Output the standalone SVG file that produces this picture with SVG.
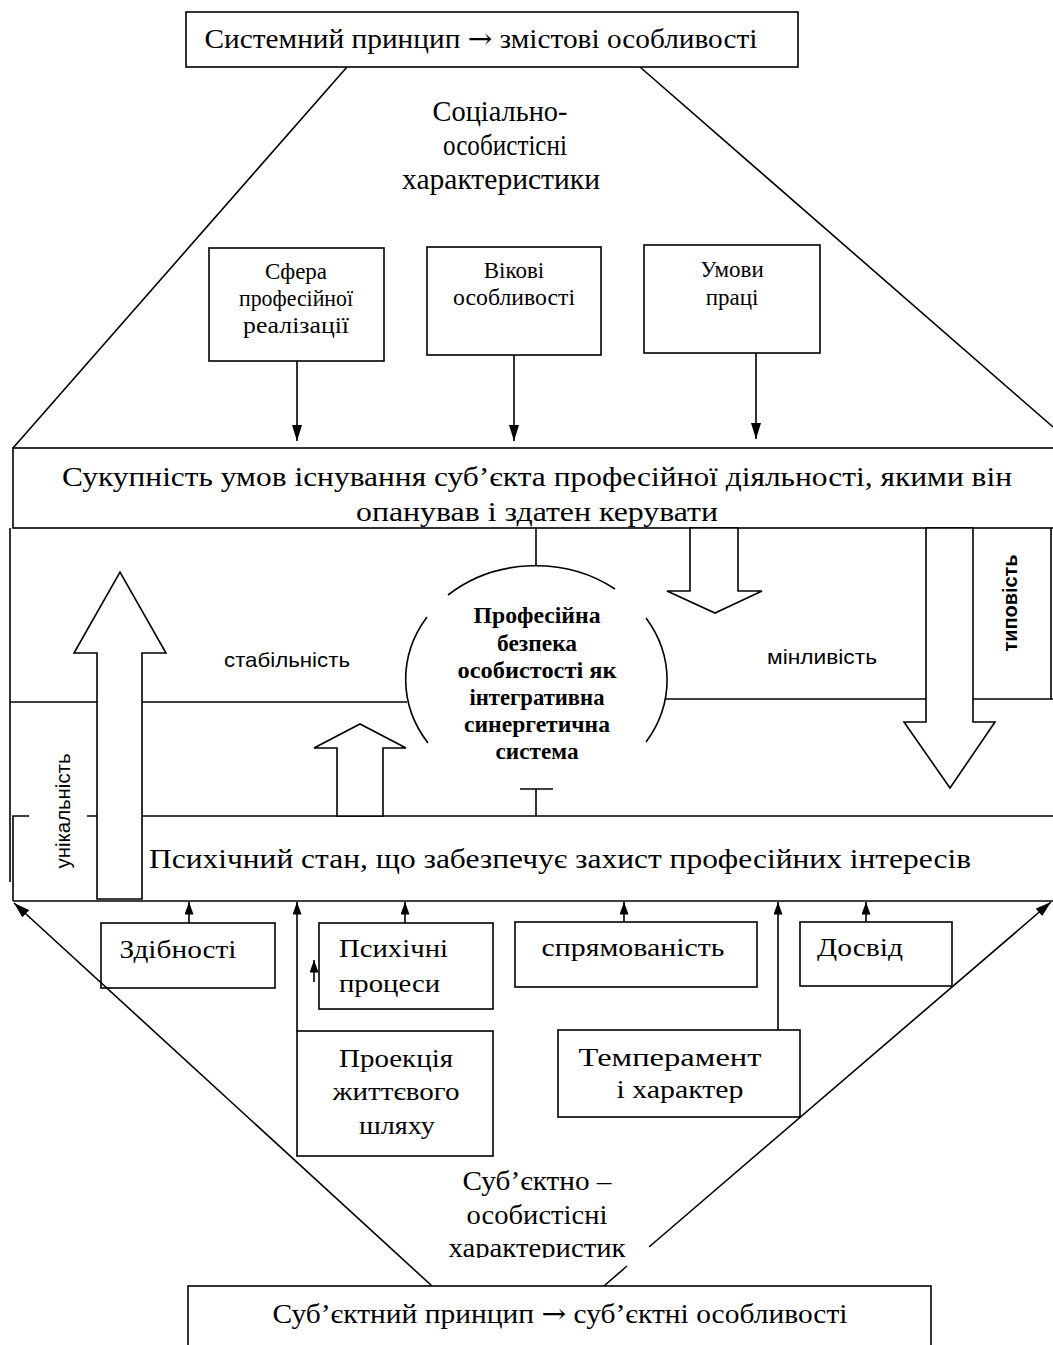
<svg xmlns="http://www.w3.org/2000/svg" width="1053" height="1345" viewBox="0 0 1053 1345">
<style>
.ln{stroke:#000;stroke-width:1.6;fill:none}
.box{fill:#fff;stroke:#000;stroke-width:1.6}
.big{fill:#fff;stroke:#000;stroke-width:1.6;stroke-linejoin:miter}
.t{font-family:"Liberation Serif","Times New Roman",serif;fill:#000;text-anchor:middle}
.tl{font-family:"Liberation Serif","Times New Roman",serif;fill:#000}
.b{font-weight:bold}
.s{font-family:"Liberation Sans",Arial,sans-serif;fill:#000;text-anchor:middle}
.arr{font-family:"DejaVu Serif",serif}
</style>
<defs>
<marker id="ah" viewBox="0 0 16 10" refX="16" refY="5" markerWidth="16" markerHeight="10" orient="auto" markerUnits="userSpaceOnUse">
<path d="M0,0 L16,5 L0,10 z" fill="#000"/>
</marker>
<marker id="ahs" viewBox="0 0 14 10" refX="14" refY="5" markerWidth="14" markerHeight="9" orient="auto" markerUnits="userSpaceOnUse">
<path d="M0,0 L14,5 L0,10 z" fill="#000"/>
</marker>
<clipPath id="cut"><rect x="400" y="1160" width="300" height="98"/></clipPath>
</defs>
<rect width="1053" height="1345" fill="#fff"/>

<g id="frame">
<line class="ln" x1="347" y1="67" x2="13" y2="448"/>
<line class="ln" x1="640" y1="67" x2="1053" y2="427"/>
<line class="ln" x1="10" y1="528" x2="10" y2="882"/>
<path class="ln" d="M29,816 L13,816 L13,901"/>
<line class="ln" x1="87" y1="816" x2="1053" y2="816"/>
<line class="ln" x1="13" y1="901" x2="1053" y2="901"/>
<line class="ln" x1="10" y1="702" x2="407" y2="702"/>
<line class="ln" x1="665" y1="699" x2="1053" y2="699"/>
<line class="ln" x1="1051" y1="528" x2="1051" y2="699"/>
</g>

<g id="top-principle">
<rect class="box" x="186" y="12" width="612" height="55"/>
<text class="t" x="481" y="48" font-size="27" textLength="553" lengthAdjust="spacingAndGlyphs">Системний принцип <tspan class="arr">→</tspan> змістові особливості</text>
</g>

<g id="social-label">
<text class="t" x="500" y="121" font-size="29" textLength="135" lengthAdjust="spacingAndGlyphs">Соціально-</text>
<text class="t" x="505" y="155" font-size="29" textLength="124" lengthAdjust="spacingAndGlyphs">особистісні</text>
<text class="t" x="501" y="189" font-size="29" textLength="198" lengthAdjust="spacingAndGlyphs">характеристики</text>
</g>

<g id="sfera">
<rect class="box" x="209" y="248" width="175" height="113"/>
<text class="t" x="296" y="279" font-size="23">Сфера</text>
<text class="t" x="296" y="306" font-size="23" textLength="114" lengthAdjust="spacingAndGlyphs">професійної</text>
<text class="t" x="296" y="333" font-size="23" textLength="106" lengthAdjust="spacingAndGlyphs">реалізації</text>
</g>
<g id="vikovi">
<rect class="box" x="427" y="247" width="174" height="108"/>
<text class="t" x="514" y="278" font-size="23">Вікові</text>
<text class="t" x="514" y="305" font-size="23" textLength="122" lengthAdjust="spacingAndGlyphs">особливості</text>
</g>
<g id="umovy">
<rect class="box" x="644" y="245" width="176" height="108"/>
<text class="t" x="732" y="277" font-size="23">Умови</text>
<text class="t" x="732" y="305" font-size="23">праці</text>
</g>

<g id="sukupnist">
<rect class="box" x="13" y="448" width="1045" height="80"/>
<text class="t" x="537" y="486" font-size="28" textLength="950" lengthAdjust="spacingAndGlyphs">Сукупність умов існування суб’єкта професійної діяльності, якими він</text>
<text class="t" x="537" y="521" font-size="28" textLength="362" lengthAdjust="spacingAndGlyphs">опанував і здатен керувати</text>
</g>

<g id="core">
<path class="ln" d="M427,617 A131,114 0 0 0 428,743"/>
<path class="ln" d="M448,595 A131,114 0 0 1 615,589"/>
<path class="ln" d="M646,618 A131,114 0 0 1 646,742"/>
<text class="t b" x="537" y="623" font-size="23" textLength="127" lengthAdjust="spacingAndGlyphs">Професійна</text>
<text class="t b" x="537" y="651" font-size="23" textLength="80" lengthAdjust="spacingAndGlyphs">безпека</text>
<text class="t b" x="537" y="678" font-size="23" textLength="159" lengthAdjust="spacingAndGlyphs">особистості як</text>
<text class="t b" x="537" y="705" font-size="23" textLength="135" lengthAdjust="spacingAndGlyphs">інтегративна</text>
<text class="t b" x="537" y="732" font-size="23" textLength="146" lengthAdjust="spacingAndGlyphs">синергетична</text>
<text class="t b" x="537" y="759" font-size="23" textLength="83" lengthAdjust="spacingAndGlyphs">система</text>
</g>

<g id="big-arrows">
<polygon class="big" points="97,899 97,653 74,653 120,572 166,653 142,653 142,899"/>
<polygon class="big" points="337,816 337,748 314,748 360,724 406,748 383,748 383,816"/>
<polygon class="big" points="690,528 690,591 667,591 715,613 762,591 738,591 738,528"/>
<polygon class="big" points="926,528 926,722 904,722 950,788 995,722 973,722 973,528"/>
</g>

<g id="side-labels">
<text class="s" x="287" y="667" font-size="21" textLength="126" lengthAdjust="spacingAndGlyphs">стабільність</text>
<text class="s" x="822" y="664" font-size="21" textLength="110" lengthAdjust="spacingAndGlyphs">мінливість</text>
<text class="s" transform="translate(70,811) rotate(-90)" font-size="21" textLength="115" lengthAdjust="spacingAndGlyphs">унікальність</text>
<text class="s b" transform="translate(1017,603) rotate(-90)" font-size="20" textLength="97" lengthAdjust="spacingAndGlyphs">типовість</text>
</g>

<g id="psychic-state">
<text class="t" x="560" y="868" font-size="28" textLength="822" lengthAdjust="spacingAndGlyphs">Психічний стан, що забезпечує захист професійних інтересів</text>
</g>

<g id="zdibnosti">
<rect class="box" x="101" y="923" width="174" height="65"/>
<text class="t" x="178" y="958" font-size="25" textLength="117" lengthAdjust="spacingAndGlyphs">Здібності</text>
</g>
<g id="psykhichni">
<rect class="box" x="319" y="923" width="174" height="86"/>
<text class="tl" x="339" y="957" font-size="25" textLength="109" lengthAdjust="spacingAndGlyphs">Психічні</text>
<text class="tl" x="339" y="992" font-size="25" textLength="101" lengthAdjust="spacingAndGlyphs">процеси</text>
</g>
<g id="spryamovanist">
<rect class="box" x="515" y="922" width="242" height="65"/>
<text class="t" x="633" y="956" font-size="25" textLength="183" lengthAdjust="spacingAndGlyphs">спрямованість</text>
</g>
<g id="dosvid">
<rect class="box" x="800" y="922" width="152" height="64"/>
<text class="tl" x="817" y="956" font-size="25" textLength="86" lengthAdjust="spacingAndGlyphs">Досвід</text>
</g>
<g id="proektsiya">
<rect class="box" x="297" y="1031" width="196" height="125"/>
<text class="t" x="396" y="1067" font-size="25" textLength="114" lengthAdjust="spacingAndGlyphs">Проекція</text>
<text class="t" x="396" y="1100" font-size="25" textLength="127" lengthAdjust="spacingAndGlyphs">життєвого</text>
<text class="t" x="397" y="1134" font-size="25" textLength="76" lengthAdjust="spacingAndGlyphs">шляху</text>
</g>
<g id="temperament">
<rect class="box" x="558" y="1030" width="242" height="87"/>
<text class="t" x="670" y="1066" font-size="25" textLength="183" lengthAdjust="spacingAndGlyphs">Темперамент</text>
<text class="t" x="680" y="1098" font-size="25" textLength="127" lengthAdjust="spacingAndGlyphs">і характер</text>
</g>

<g id="subject-label">
<text class="t" x="537" y="1190" font-size="28" textLength="149" lengthAdjust="spacingAndGlyphs">Суб’єктно –</text>
<text class="t" x="537" y="1224" font-size="28" textLength="141" lengthAdjust="spacingAndGlyphs">особистісні</text>
<text class="t" x="537" y="1257" font-size="28" textLength="177" lengthAdjust="spacingAndGlyphs" clip-path="url(#cut)">характеристик</text>
</g>

<g id="subject-principle">
<rect class="box" x="188" y="1286" width="743" height="80"/>
<text class="t" x="560" y="1323" font-size="27" textLength="575" lengthAdjust="spacingAndGlyphs">Суб’єктний принцип <tspan class="arr">→</tspan> суб’єктні особливості</text>
</g>

<g id="connectors">
<line class="ln" x1="297" y1="361" x2="297" y2="441" marker-end="url(#ah)"/>
<line class="ln" x1="514" y1="355" x2="514" y2="441" marker-end="url(#ah)"/>
<line class="ln" x1="756" y1="353" x2="756" y2="439" marker-end="url(#ah)"/>
<line class="ln" x1="536" y1="528" x2="536" y2="566"/>
<line class="ln" x1="520" y1="789" x2="553" y2="789"/>
<line class="ln" x1="536" y1="789" x2="536" y2="816"/>
<line class="ln" x1="189" y1="923" x2="189" y2="902" marker-end="url(#ahs)"/>
<line class="ln" x1="405" y1="923" x2="405" y2="902" marker-end="url(#ahs)"/>
<line class="ln" x1="624" y1="922" x2="624" y2="902" marker-end="url(#ahs)"/>
<line class="ln" x1="866" y1="922" x2="866" y2="902" marker-end="url(#ahs)"/>
<line class="ln" x1="297" y1="1031" x2="297" y2="902" marker-end="url(#ahs)"/>
<line class="ln" x1="778" y1="1030" x2="778" y2="902" marker-end="url(#ahs)"/>
<line class="ln" x1="314" y1="982" x2="314" y2="960" marker-end="url(#ahs)"/>
<line class="ln" x1="432" y1="1286" x2="14" y2="903" marker-end="url(#ah)"/>
<line class="ln" x1="649" y1="1247" x2="1051" y2="902" marker-end="url(#ah)"/>
<line class="ln" x1="627" y1="1266" x2="604" y2="1286"/>
</g>
</svg>
